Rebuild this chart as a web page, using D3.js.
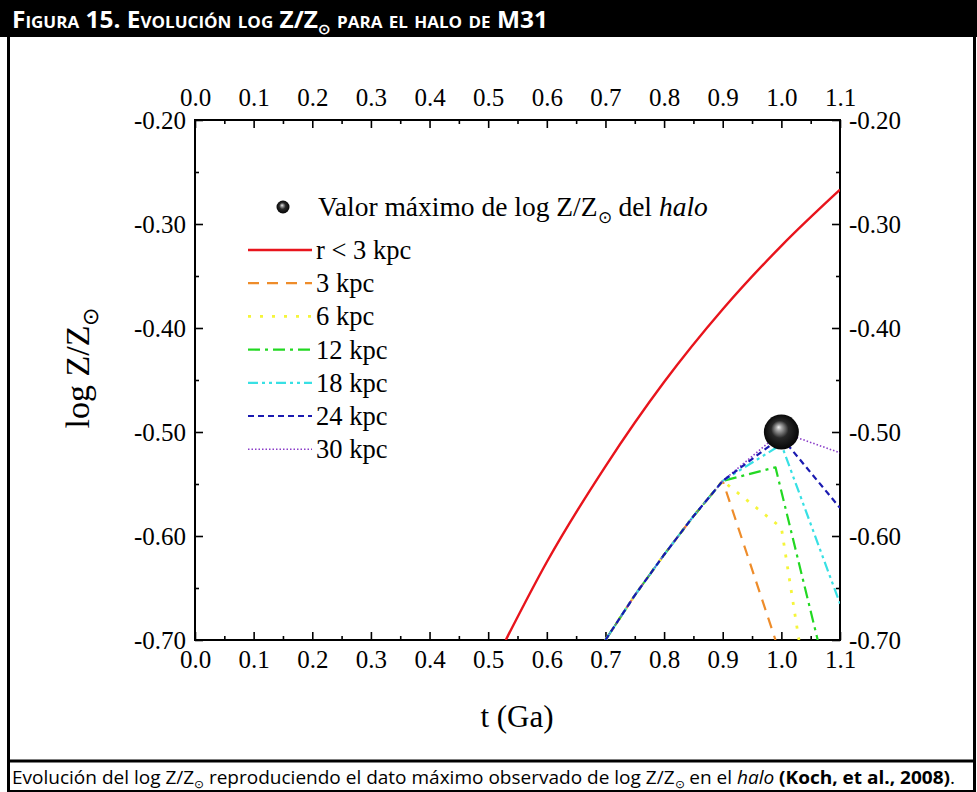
<!DOCTYPE html>
<html>
<head>
<meta charset="utf-8">
<script src="https://cdn.jsdelivr.net/npm/d3@7"></script>
<style>
  body { margin: 0; background: #fff; }
  svg { display: block; }
</style>
</head>
<body>
<div id="chart"></div>
<script>
// --- data ---
const xTicks = [0.0, 0.1, 0.2, 0.3, 0.4, 0.5, 0.6, 0.7, 0.8, 0.9, 1.0, 1.1];
const xTickLabels = ['0.0', '0.1', '0.2', '0.3', '0.4', '0.5', '0.6', '0.7', '0.8', '0.9', '1.0', '1.1'];
const xMinorTicks = [0.05, 0.15, 0.25, 0.35, 0.45, 0.55, 0.65, 0.75, 0.85, 0.95, 1.05];
const yTicks = [-0.20, -0.30, -0.40, -0.50, -0.60, -0.70];
const yTickLabels = ['-0.20', '-0.30', '-0.40', '-0.50', '-0.60', '-0.70'];
const yMinorTicks = [-0.25, -0.35, -0.45, -0.55, -0.65];

const seriesNames = ['r < 3 kpc', '3 kpc', '6 kpc', '12 kpc', '18 kpc', '24 kpc', '30 kpc'];

// r < 3 kpc
const innerT = [0.53, 0.6, 0.7, 0.8, 0.9, 1.0, 1.1];
const innerZ = [-0.70, -0.625, -0.533, -0.452, -0.382, -0.321, -0.267];

// common rise of the halo models
const riseT = [0.7, 0.75, 0.8, 0.85, 0.9];
const riseZ = [-0.70, -0.657, -0.618, -0.581, -0.547];

// where every halo model goes after t = 0.9
const tail3T = [0.99], tail3Z = [-0.70];
const tail6T = [1.0, 1.03], tail6Z = [-0.592, -0.70];
const tail12T = [0.99, 1.062], tail12Z = [-0.534, -0.70];
const tail18T = [1.0, 1.1], tail18Z = [-0.512, -0.665];
const tail24T = [1.0, 1.1], tail24Z = [-0.505, -0.573];
const tail30T = [1.0, 1.1], tail30Z = [-0.50, -0.52];

const maxT = [1.0], maxZ = [-0.50];

// --- styles ---
const styles = [
  { color: '#e8141c', dash: null, width: 2.4 },
  { color: '#ee8c2a', dash: '11,8', width: 2.2 },
  { color: '#f5f53a', dash: '3,9', width: 2.8 },
  { color: '#22d822', dash: '12,5,3,5', width: 2.2 },
  { color: '#38e0e4', dash: '10,4,3,4,3,4', width: 2.2 },
  { color: '#1a1ab0', dash: '6,4', width: 2.2 },
  { color: '#8a3cc8', dash: '1.5,2', width: 1.6 }
];

const W = 977, H = 792;
const serif = '"Liberation Serif", "Times New Roman", serif';
const sans = '"Open Sans", "Noto Sans", sans-serif';

const svg = d3.select('#chart').append('svg')
  .attr('width', W).attr('height', H)
  .attr('viewBox', `0 0 ${W} ${H}`);

// --- page frame ---
svg.append('rect').attr('x', 0).attr('y', 0).attr('width', W).attr('height', 37).attr('fill', '#000');
svg.append('line').attr('x1', 8.5).attr('x2', 8.5).attr('y1', 37).attr('y2', H).attr('stroke', '#000').attr('stroke-width', 3);
svg.append('line').attr('x1', 974.5).attr('x2', 974.5).attr('y1', 37).attr('y2', H).attr('stroke', '#000').attr('stroke-width', 3);
svg.append('line').attr('x1', 7).attr('x2', 976).attr('y1', 761).attr('y2', 761).attr('stroke', '#000').attr('stroke-width', 3);
svg.append('line').attr('x1', 7).attr('x2', 976).attr('y1', 791).attr('y2', 791).attr('stroke', '#000').attr('stroke-width', 2);

const title = svg.append('text')
  .attr('x', 12).attr('y', 28)
  .attr('fill', '#fff')
  .attr('textLength', 536).attr('lengthAdjust', 'spacingAndGlyphs')
  .style('font-family', sans).style('font-weight', 'bold').style('font-size', '23px')
  .style('font-variant', 'small-caps');
title.append('tspan').text('Figura 15. Evolución log Z/Z');
title.append('tspan').attr('dy', 6).style('font-size', '14px').text('⊙');
title.append('tspan').attr('dy', -6).text(' para el halo de M31');

const caption = svg.append('text')
  .attr('x', 12).attr('y', 784)
  .attr('fill', '#000')
  .attr('textLength', 943).attr('lengthAdjust', 'spacingAndGlyphs')
  .style('font-family', sans).style('font-size', '17.5px');
caption.append('tspan').text('Evolución del log Z/Z');
caption.append('tspan').attr('dy', 4).style('font-size', '11px').text('⊙');
caption.append('tspan').attr('dy', -4).text(' reproduciendo el dato máximo observado de log Z/Z');
caption.append('tspan').attr('dy', 4).style('font-size', '11px').text('⊙');
caption.append('tspan').attr('dy', -4).text(' en el ');
caption.append('tspan').style('font-style', 'italic').text('halo');
caption.append('tspan').text(' ');
caption.append('tspan').style('font-weight', 'bold').text('(Koch, et al., 2008)');
caption.append('tspan').text('.');

// --- chart ---
const plot = { left: 195, right: 840, top: 120, bottom: 640 };
const x = d3.scaleLinear().domain([0, 1.1]).range([plot.left, plot.right]);
const y = d3.scaleLinear().domain([-0.7, -0.2]).range([plot.bottom, plot.top]);

const defs = svg.append('defs');
defs.append('clipPath').attr('id', 'plot-clip').append('rect')
  .attr('x', plot.left).attr('y', plot.top)
  .attr('width', plot.right - plot.left).attr('height', plot.bottom - plot.top);
const grad = defs.append('radialGradient').attr('id', 'ball')
  .attr('cx', '50%').attr('cy', '50%').attr('r', '55%').attr('fx', '42%').attr('fy', '36%');
grad.append('stop').attr('offset', '0%').attr('stop-color', '#f2f2f2');
grad.append('stop').attr('offset', '14%').attr('stop-color', '#a8a8a8');
grad.append('stop').attr('offset', '45%').attr('stop-color', '#282828');
grad.append('stop').attr('offset', '100%').attr('stop-color', '#000000');

// axes (ticks pointing inward)
function styleAxis(g) {
  g.attr('font-family', serif).attr('font-size', 25);
  g.select('.domain').remove();
  g.selectAll('line').attr('stroke', '#000').attr('stroke-width', 1.6);
  g.selectAll('text').attr('fill', '#000');
}

svg.append('g').attr('transform', `translate(0,${plot.bottom})`)
  .call(d3.axisBottom(x).tickValues(xTicks).tickFormat((d, i) => xTickLabels[i]).tickSizeInner(-8).tickSizeOuter(0).tickPadding(10))
  .call(styleAxis);
svg.append('g').attr('transform', `translate(0,${plot.bottom})`)
  .call(d3.axisBottom(x).tickValues(xMinorTicks).tickFormat('').tickSizeInner(-4).tickSizeOuter(0))
  .call(styleAxis);
svg.append('g').attr('transform', `translate(0,${plot.top})`)
  .call(d3.axisTop(x).tickValues(xTicks).tickFormat((d, i) => xTickLabels[i]).tickSizeInner(-8).tickSizeOuter(0).tickPadding(14))
  .call(styleAxis);
svg.append('g').attr('transform', `translate(0,${plot.top})`)
  .call(d3.axisTop(x).tickValues(xMinorTicks).tickFormat('').tickSizeInner(-4).tickSizeOuter(0))
  .call(styleAxis);
svg.append('g').attr('transform', `translate(${plot.left},0)`)
  .call(d3.axisLeft(y).tickValues(yTicks).tickFormat((d, i) => yTickLabels[i]).tickSizeInner(-8).tickSizeOuter(0).tickPadding(9))
  .call(styleAxis);
svg.append('g').attr('transform', `translate(${plot.left},0)`)
  .call(d3.axisLeft(y).tickValues(yMinorTicks).tickFormat('').tickSizeInner(-4).tickSizeOuter(0))
  .call(styleAxis);
svg.append('g').attr('transform', `translate(${plot.right},0)`)
  .call(d3.axisRight(y).tickValues(yTicks).tickFormat((d, i) => yTickLabels[i]).tickSizeInner(-8).tickSizeOuter(0).tickPadding(9))
  .call(styleAxis);
svg.append('g').attr('transform', `translate(${plot.right},0)`)
  .call(d3.axisRight(y).tickValues(yMinorTicks).tickFormat('').tickSizeInner(-4).tickSizeOuter(0))
  .call(styleAxis);

svg.append('rect')
  .attr('x', plot.left).attr('y', plot.top)
  .attr('width', plot.right - plot.left).attr('height', plot.bottom - plot.top)
  .attr('fill', 'none').attr('stroke', '#000').attr('stroke-width', 2);

// axis titles
const yTitle = svg.append('text')
  .attr('transform', 'translate(89,368) rotate(-90)')
  .attr('text-anchor', 'middle')
  .style('font-family', serif).style('font-size', '34px').attr('fill', '#000');
yTitle.append('tspan').text('log Z/Z');
yTitle.append('tspan').attr('dy', 9).style('font-size', '22px').text('⊙');

svg.append('text')
  .attr('x', 517).attr('y', 727)
  .attr('text-anchor', 'middle')
  .style('font-family', serif).style('font-size', '31px').attr('fill', '#000')
  .text('t (Ga)');

// series
const zip = (ts, zs) => ts.map((t, i) => ({ t, z: zs[i] }));
const seriesData = [
  zip(innerT, innerZ),
  zip(riseT.concat(tail3T), riseZ.concat(tail3Z)),
  zip(riseT.concat(tail6T), riseZ.concat(tail6Z)),
  zip(riseT.concat(tail12T), riseZ.concat(tail12Z)),
  zip(riseT.concat(tail18T), riseZ.concat(tail18Z)),
  zip(riseT.concat(tail24T), riseZ.concat(tail24Z)),
  zip(riseT.concat(tail30T), riseZ.concat(tail30Z))
];

const lineGen = d3.line().x(d => x(d.t)).y(d => y(d.z));
const smoothGen = d3.line().x(d => x(d.t)).y(d => y(d.z)).curve(d3.curveMonotoneX);

const lines = svg.append('g').attr('clip-path', 'url(#plot-clip)');
// draw order: blue dashed on top, as in the figure
const order = [0, 1, 2, 3, 4, 6, 5];
order.forEach(i => {
  lines.append('path')
    .datum(seriesData[i])
    .attr('fill', 'none')
    .attr('stroke', styles[i].color)
    .attr('stroke-width', styles[i].width)
    .attr('stroke-dasharray', styles[i].dash)
    .attr('stroke-linejoin', 'round')
    .attr('d', i === 0 ? smoothGen : lineGen);
});

// maximum observed value
svg.append('g').selectAll('circle').data(zip(maxT, maxZ)).enter().append('circle')
  .attr('cx', d => x(d.t)).attr('cy', d => y(d.z)).attr('r', 17.5)
  .attr('fill', 'url(#ball)');

// legend
const legend = svg.append('g');
legend.append('circle').attr('cx', 283).attr('cy', 207).attr('r', 6.5).attr('fill', 'url(#ball)');
const lt = legend.append('text').attr('x', 318).attr('y', 216)
  .style('font-family', serif).style('font-size', '27.5px').attr('fill', '#000');
lt.append('tspan').text('Valor máximo de log Z/Z');
lt.append('tspan').attr('dy', 7).style('font-size', '17px').text('⊙');
lt.append('tspan').attr('dy', -7).text(' del ');
lt.append('tspan').style('font-style', 'italic').text('halo');

seriesNames.forEach((name, i) => {
  const cy = 250 + i * 33.2;
  legend.append('line')
    .attr('x1', 248).attr('x2', 312).attr('y1', cy).attr('y2', cy)
    .attr('stroke', styles[i].color)
    .attr('stroke-width', styles[i].width)
    .attr('stroke-dasharray', styles[i].dash);
  legend.append('text')
    .attr('x', 316).attr('y', cy + 9)
    .style('font-family', serif).style('font-size', '26.5px').attr('fill', '#000')
    .text(name);
});
</script>
</body>
</html>
